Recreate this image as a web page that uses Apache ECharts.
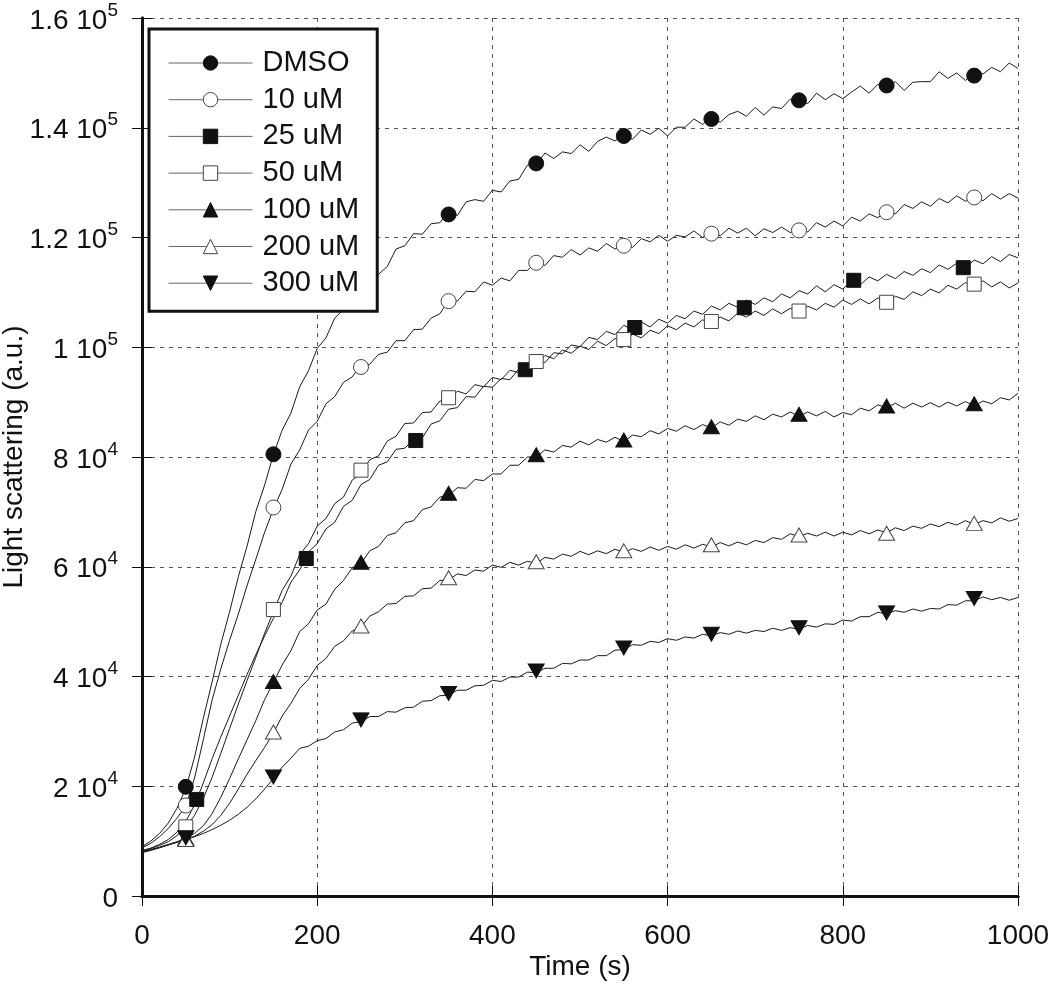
<!DOCTYPE html>
<html><head><meta charset="utf-8">
<script src="https://cdn.jsdelivr.net/npm/echarts@6/dist/echarts.min.js"></script>
<style>html,body{margin:0;padding:0;background:#fff}#c{width:1050px;height:1007px}</style>
</head><body><div id="c"></div>
<script>
const seriesNames = ['DMSO', '10 uM', '25 uM', '50 uM', '100 uM', '200 uM', '300 uM'];
const xTickLabels = ['0', '200', '400', '600', '800', '1000'];
const yTickMantissa = ['0', '2', '4', '6', '8', '1', '1.2', '1.4', '1.6'];
const yTickExponent = ['', '4', '4', '4', '4', '5', '5', '5', '5'];
const xTitle = 'Time (s)';
const yTitle = 'Light scattering (a.u.)';

const times = [0,10,20,30,40,50,60,70,80,90,100,110,120,130,140,150,160,170,180,190,200,210,220,230,240,250,260,270,280,290,300,310,320,330,340,350,360,370,380,390,400,410,420,430,440,450,460,470,480,490,500,510,520,530,540,550,560,570,580,590,600,610,620,630,640,650,660,670,680,690,700,710,720,730,740,750,760,770,780,790,800,810,820,830,840,850,860,870,880,890,900,910,920,930,940,950,960,970,980,990,1000];

const dmso = [9000,10000,11400,13300,16000,19600,25300,32400,39000,45900,51800,58200,63800,70100,74900,80400,84900,88000,92800,95700,99800,101700,105300,106900,107900,110600,111000,113300,114700,117900,118500,120700,120600,122500,122700,124700,124000,126500,126900,126600,128600,128300,130300,130600,133200,133300,135400,134400,135600,135300,136900,135700,137500,138300,137600,138700,137900,139600,138800,139900,138500,140100,140100,141600,140600,142100,141000,142400,143000,142100,143700,142300,143800,143500,145200,144800,144400,146300,145100,146200,145300,146500,147600,146300,147900,147400,148400,146800,148300,148400,148400,150200,149000,150000,148600,150300,149800,151000,150200,151800,150800];
const c10 = [8800,9600,10800,12300,14200,16400,21500,28500,35700,41400,46600,51400,56600,61400,66300,70500,74100,78700,81300,84900,86500,89700,91000,93600,94600,96800,96900,98700,99100,101200,101200,103200,103300,105300,106100,108500,108400,110200,110100,111900,111300,112600,112100,114000,114000,115600,114900,116700,116400,117800,116800,118100,117500,118900,117900,118700,118200,119800,119200,120400,119300,120400,120100,121200,120000,121100,120300,121700,120800,121700,120300,121600,120900,121900,120900,121500,121000,122700,121900,123000,122100,123700,123000,124300,123600,124800,124300,126000,125300,126500,125700,127100,126300,127600,126600,127500,126700,128000,127000,128000,127200];
const c25 = [8200,8700,9400,10300,11600,13600,16600,20600,25000,29000,32800,36600,40400,44000,47400,50600,53500,57200,59400,62700,64200,66900,68100,71000,72100,75000,75900,78500,79100,81400,81600,83200,83500,86000,86600,88700,89000,91000,90900,92900,92700,94300,94100,96000,95800,97500,97200,99000,98800,100400,100100,101800,101400,102900,102300,104000,103200,104600,103700,105100,104400,105800,105200,106600,106000,107500,106800,108000,107300,108600,107800,109000,108300,109700,109000,110300,109700,111200,110100,111400,110600,112100,111400,112800,112100,113300,112500,113800,113100,114300,113600,115000,114200,115300,114500,115900,115200,116500,115600,116900,116300];
const c50 = [8300,8700,9200,9900,11000,12500,14700,17800,21600,26000,30500,35000,39300,43500,47900,51800,55700,58300,62200,64200,67400,68800,71500,72700,75800,77000,79500,80200,82900,83800,86100,86200,88100,88200,90200,90300,92000,91500,93200,92800,94500,94100,95800,95400,97100,96900,98500,97900,99500,98900,100200,99600,101100,100300,101600,101000,102400,101700,103100,102500,103900,103200,104400,103700,105000,104300,105500,104800,106200,105500,106600,105800,107000,106100,107100,106200,107500,106800,108000,107300,108600,107800,108800,107900,109000,108100,109300,108700,110100,109400,110600,109900,111300,110600,111800,111000,112100,111000,111900,110800,111700];
const c100 = [8100,8500,8900,9400,9900,10500,11400,12800,15000,18000,21400,25000,28500,32000,35800,38900,42100,44700,48200,49600,52100,53200,55900,57500,59800,60600,62900,63700,65700,66200,68000,68400,70400,70900,72700,73000,74400,74300,75900,75700,76900,76900,78500,78500,80000,80000,81300,80900,82100,81800,82900,82200,83200,82700,83600,82800,84000,83700,84800,84200,85200,84700,85700,85000,85900,85300,86400,85800,86900,86500,87500,86800,87800,87300,88200,87400,88200,87500,88300,87300,88100,87700,88900,88400,89500,89000,89800,88900,89800,89100,89900,89100,90000,89300,90100,89300,90200,89700,90800,90400,91600];
const c200 = [8000,8400,8800,9300,9800,10300,10900,11800,13000,14700,16900,19500,22200,24700,27100,29700,32800,35100,37800,39500,42000,43300,45500,46500,48300,49000,51000,51800,53200,53300,54600,54700,56000,56100,57500,57600,58700,58400,59400,59200,60300,59900,60800,60300,61000,60600,61700,61400,62300,61900,62800,62200,62900,62400,63200,62600,63300,62800,63600,63000,63700,63200,64000,63400,64100,63600,64400,63800,64500,64000,64800,64400,65300,65000,66000,65500,66100,65600,66300,65600,66300,65800,66600,66000,66700,66200,67100,66600,67400,67000,67800,67300,68100,67600,68400,67700,68400,68000,68900,68300,68800];
const c300 = [7900,8300,8800,9300,9800,10300,10800,11400,12100,12900,13800,14900,16200,17700,19500,21400,23500,25100,26900,27300,28300,28700,29900,30300,31500,31800,32700,32700,33600,33500,34300,34400,35500,35600,36500,36600,37500,37500,38300,38400,39300,39100,39900,39900,40800,40700,41500,41500,42400,42300,43000,43000,43800,43800,44800,44900,45800,45700,46400,46200,46900,46600,47200,47000,47700,47400,48000,47700,48300,47900,48400,48200,48800,48400,48900,48600,49300,49000,49600,49500,50300,50100,50900,50900,51700,51400,52000,51700,52300,51900,52400,52300,53100,53000,53800,53800,54500,54000,54400,53900,54400];

const markerTimesA = [50,150,250,350,450,550,650,750,850,950];
const markerTimes25 = [62.5,187.5,312.5,437.5,562.5,687.5,812.5,937.5];
const mDmso = [19900,80500,110000,124200,133500,138500,141600,145000,147700,149500];
const m10 = [16500,70800,96400,108400,115400,118500,120700,121300,124600,127300];
const m25 = [17600,61500,83000,95900,103600,107200,112200,114500];
const m50 = [12600,52200,77600,90800,97400,101400,104700,106600,108200,111500];
const m100 = [10500,39100,60800,73400,80400,83100,85500,87800,89300,89700];
const m200 = [10300,29900,49200,58000,60900,62900,64000,65800,66100,67900];
const m300 = [10600,21700,32100,36900,41000,45200,47700,48900,51600,54200];

const traceValues = [dmso, c10, c25, c50, c100, c200, c300];
const markerTimes = [markerTimesA, markerTimesA, markerTimes25, markerTimesA, markerTimesA, markerTimesA, markerTimesA];
const markerValues = [mDmso, m10, m25, m50, m100, m200, m300];

const DOWN_TRI = 'path://M0,0L20,0L10,18Z';
const styles = [
  {symbol: 'circle', size: 15, fill: '#111', border: '#111'},
  {symbol: 'circle', size: 15, fill: '#fff', border: '#444'},
  {symbol: 'rect', size: 14, fill: '#111', border: '#111'},
  {symbol: 'rect', size: 14, fill: '#fff', border: '#444'},
  {symbol: 'triangle', size: [16, 14], fill: '#111', border: '#111'},
  {symbol: 'triangle', size: [16, 14], fill: '#fff', border: '#444'},
  {symbol: DOWN_TRI, size: [16, 14], fill: '#111', border: '#111'}
];

const FONT = 'Liberation Sans, Arial, Helvetica, sans-serif';
const series = [];
seriesNames.forEach((name, i) => {
  const st = styles[i];
  series.push({
    name: name, type: 'line', showSymbol: false, symbol: st.symbol, symbolSize: st.size,
    data: times.map((t, j) => [t, traceValues[i][j]]),
    lineStyle: {color: '#1a1a1a', width: 1},
    itemStyle: {color: st.fill, borderColor: st.border, borderWidth: 1},
    emphasis: {disabled: true}, z: 2, silent: true
  });
});
seriesNames.forEach((name, i) => {
  const st = styles[i];
  series.push({
    name: name + ' markers', type: 'scatter', symbol: st.symbol, symbolSize: st.size,
    data: markerTimes[i].map((t, j) => [t, markerValues[i][j]]),
    itemStyle: {color: st.fill, borderColor: st.border, borderWidth: 1, opacity: 1},
    emphasis: {disabled: true}, z: 3, silent: true
  });
});

const chart = echarts.init(document.getElementById('c'), null, {renderer: 'canvas'});
chart.setOption({
  animation: false,
  backgroundColor: '#fff',
  textStyle: {fontFamily: FONT},
  grid: {left: 142, top: 18, right: 32, bottom: 111, containLabel: false, outerBoundsMode: 'none'},
  legend: {
    orient: 'vertical', left: 149, top: 29, z: 10,
    backgroundColor: '#fff', borderColor: '#111', borderWidth: 3,
    padding: [19, 18, 13, 19],
    itemWidth: 84, itemHeight: 18, itemGap: 6.7,
    textStyle: {fontSize: 29, color: '#111', fontFamily: FONT, lineHeight: 30, padding: [0, 0, 0, 5]},
    lineStyle: {color: '#666', width: 1},
    data: seriesNames.map((n, i) => ({name: n, itemStyle: {color: styles[i].fill, borderColor: styles[i].border, borderWidth: 1}}))
  },
  xAxis: [{
    type: 'value', min: 0, max: 1000, interval: 200,
    name: xTitle, nameLocation: 'middle', nameGap: 57, nameMoveOverlap: false,
    nameTextStyle: {fontSize: 28, color: '#111', fontFamily: FONT},
    axisLine: {show: true, onZero: false, lineStyle: {color: '#111', width: 3}},
    axisTick: {show: true, inside: true, length: 10, lineStyle: {color: '#111', width: 1}},
    axisLabel: {fontSize: 28, color: '#111', margin: 26, fontFamily: FONT,
      formatter: v => xTickLabels[Math.round(v / 200)]},
    splitLine: {show: true, lineStyle: {color: '#555', width: 1, type: [4, 5]}}
  }, {
    type: 'value', position: 'top', min: 0, max: 1000, interval: 200,
    axisLine: {show: true, lineStyle: {color: '#111', width: 3}},
    axisTick: {show: true, inside: true, length: 10, lineStyle: {color: '#111', width: 1}},
    axisLabel: {show: false}, splitLine: {show: false}
  }],
  yAxis: [{
    type: 'value', min: 0, max: 160000, interval: 20000,
    name: yTitle, nameLocation: 'middle', nameGap: 114, nameMoveOverlap: false,
    nameTextStyle: {fontSize: 28, color: '#111', fontFamily: FONT},
    axisLine: {show: true, onZero: false, lineStyle: {color: '#111', width: 3}},
    axisTick: {show: true, inside: true, length: 10, lineStyle: {color: '#111', width: 1}},
    axisLabel: {
      margin: 24, fontFamily: FONT,
      formatter: v => {
        const i = Math.round(v / 20000);
        return yTickExponent[i] ? '{b|' + yTickMantissa[i] + ' 10}{s|' + yTickExponent[i] + '}' : '{b|' + yTickMantissa[i] + '}';
      },
      rich: {
        b: {fontSize: 28, color: '#111', fontFamily: FONT, lineHeight: 34, verticalAlign: 'bottom'},
        s: {fontSize: 19, color: '#111', fontFamily: FONT, lineHeight: 19, verticalAlign: 'top'}
      }
    },
    splitLine: {show: true, lineStyle: {color: '#555', width: 1, type: [4, 5]}}
  }, {
    type: 'value', position: 'right', min: 0, max: 160000, interval: 20000,
    axisLine: {show: true, lineStyle: {color: '#111', width: 3}},
    axisTick: {show: true, inside: true, length: 10, lineStyle: {color: '#111', width: 1}},
    axisLabel: {show: false}, splitLine: {show: false}
  }],
  series: series
});
</script>
</body></html>
